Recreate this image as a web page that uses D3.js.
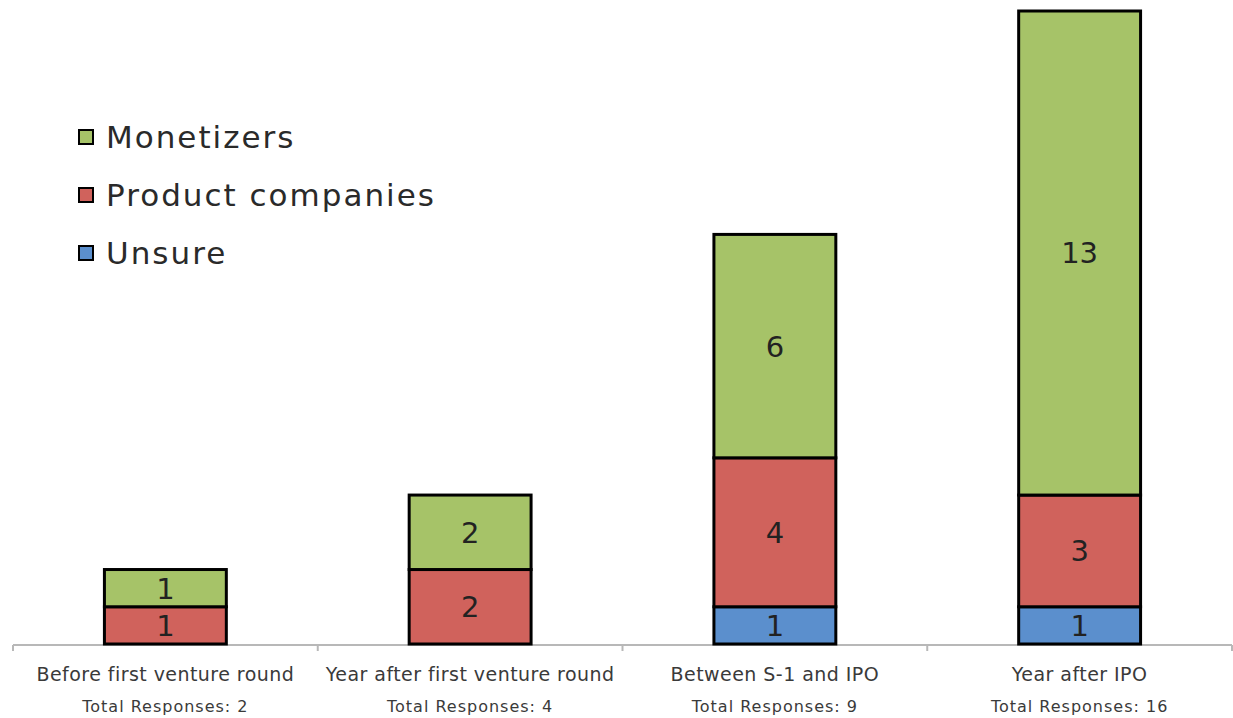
<!DOCTYPE html>
<html><head><meta charset="utf-8">
<script src="https://cdn.jsdelivr.net/npm/d3@7"></script>
<style>body{margin:0;background:#fff}svg{display:block}text{font-family:"DejaVu Sans",sans-serif}</style>
</head><body><svg id="c" width="1233" height="718"></svg>
<script>
const categories = ["Before first venture round","Year after first venture round","Between S-1 and IPO","Year after IPO"];
const totals = ["Total Responses: 2","Total Responses: 4","Total Responses: 9","Total Responses: 16"];
const unsure = [0,0,1,1];
const product = [1,2,4,3];
const monetizers = [1,2,6,13];
const seriesNames = ["Unsure","Product companies","Monetizers"];
const colors = {"Unsure":"#5b8fcd","Product companies":"#d0625c","Monetizers":"#a6c368"};

const svg = d3.select("#c");
const x = d3.scaleBand().domain(categories).range([13,1232]).paddingInner(0.6).paddingOuter(0.3);
const y = d3.scaleLinear().domain([0,17]).range([644,11]);

const rows = categories.map((c,i)=>({cat:c,"Unsure":unsure[i],"Product companies":product[i],"Monetizers":monetizers[i]}));
const stacked = d3.stack().keys(seriesNames)(rows);

// axis
const ax = svg.append("g").attr("transform","translate(0,645)");
ax.append("line").attr("x1",13).attr("x2",1232).attr("stroke","#b8b8b8").attr("stroke-width",2);
const step = x.step();
d3.range(categories.length+1).forEach(i=>{
  const tx = 13 + i*step;
  ax.append("line").attr("x1",tx).attr("x2",tx).attr("y1",0).attr("y2",6).attr("stroke","#b8b8b8").attr("stroke-width",2);
});

stacked.forEach(s=>{
  const g = svg.append("g");
  s.forEach((d,i)=>{
    if(d[1]-d[0]<=0) return;
    g.append("rect").attr("x",x(categories[i])).attr("y",y(d[1])).attr("width",x.bandwidth())
      .attr("height",y(d[0])-y(d[1])).attr("fill",colors[s.key]).attr("stroke","#000").attr("stroke-width",3);
  });
  s.forEach((d,i)=>{
    const v = d[1]-d[0];
    if(v<=0) return;
    g.append("text").attr("x",x(categories[i])+x.bandwidth()/2).attr("y",(y(d[0])+y(d[1]))/2)
      .attr("dy","0.36em").attr("text-anchor","middle").attr("font-size",29).attr("fill","#222").text(v);
  });
});

// category labels
categories.forEach((c,i)=>{
  const cx = x(c)+x.bandwidth()/2;
  svg.append("text").attr("x",cx).attr("y",681).attr("text-anchor","middle").attr("font-size",19).attr("letter-spacing",0.45).attr("fill","#3a3a3a").text(c);
  svg.append("text").attr("x",cx).attr("y",712).attr("text-anchor","middle").attr("font-size",16).attr("letter-spacing",1).attr("fill","#3a3a3a").text(totals[i]);
});

// legend
const legendOrder = ["Monetizers","Product companies","Unsure"];
legendOrder.forEach((k,i)=>{
  const cy = 137 + i*58;
  svg.append("rect").attr("x",79).attr("y",cy-7).attr("width",14).attr("height",14)
    .attr("fill",colors[k]).attr("stroke","#000").attr("stroke-width",2);
  svg.append("text").attr("x",106).attr("y",cy).attr("dy","0.36em").attr("font-size",31).attr("letter-spacing",2).attr("fill","#2a2a2a").text(k);
});
</script></body></html>
